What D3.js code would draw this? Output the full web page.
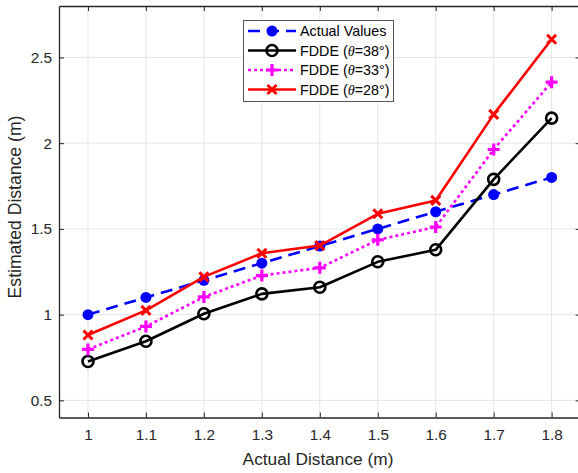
<!DOCTYPE html>
<html>
<head>
<meta charset="utf-8">
<script src="https://cdn.jsdelivr.net/npm/d3@7"></script>
<style>
  html, body { margin: 0; padding: 0; background: #fff; }
  svg { display: block; font-family: "Liberation Sans", Arial, Helvetica, sans-serif; }
</style>
</head>
<body>
<svg id="chart" width="578" height="473"></svg>
<script>
// Distances along the x axis (m)
const actualDistance = [1.0, 1.1, 1.2, 1.3, 1.4, 1.5, 1.6, 1.7, 1.8];
// Estimated distances for each series (m)
const actualValues = [1.0, 1.1, 1.2, 1.3, 1.4, 1.5, 1.6, 1.7, 1.8];
const fdde38 = [0.727, 0.845, 1.005, 1.121, 1.160, 1.308, 1.378, 1.789, 2.146];
const fdde33 = [0.797, 0.931, 1.103, 1.228, 1.273, 1.436, 1.511, 1.963, 2.356];
const fdde28 = [0.881, 1.025, 1.220, 1.358, 1.403, 1.588, 1.666, 2.168, 2.606];
const xTicks = [1, 1.1, 1.2, 1.3, 1.4, 1.5, 1.6, 1.7, 1.8];
const yTicks = [0.5, 1, 1.5, 2, 2.5];
const seriesNames = ["Actual Values", "FDDE (θ=38°)", "FDDE (θ=33°)", "FDDE (θ=28°)"];
const seriesAngles = [null, "38", "33", "28"];

const svg = d3.select("#chart");
const plotLeft = 59, plotRight = 580.6, plotTop = 6, plotBottom = 417.5;
const ink = "#262626";

const x = d3.scaleLinear().domain([0.95, 1.85]).range([plotLeft, plotRight]);
const y = d3.scaleLinear().domain([0.4, 2.8]).range([plotBottom, plotTop]);

// Grid lines
const grid = svg.append("g");
grid.selectAll("line.gx").data(xTicks).join("line")
  .attr("x1", d => x(d)).attr("x2", d => x(d))
  .attr("y1", plotTop).attr("y2", plotBottom)
  .attr("stroke", "#e5e5e5").attr("stroke-width", 1);
grid.selectAll("line.gy").data(yTicks).join("line")
  .attr("x1", plotLeft).attr("x2", plotRight)
  .attr("y1", d => y(d)).attr("y2", d => y(d))
  .attr("stroke", "#e5e5e5").attr("stroke-width", 1);

// Axes (ticks point inward, mirrored on the opposite sides)
const fmt = d => String(d);
const axisStyle = g => {
  g.select(".domain").attr("stroke", ink).attr("stroke-width", 1.3);
  g.selectAll(".tick line").attr("stroke", ink).attr("stroke-width", 1);
  g.selectAll(".tick text").attr("fill", ink).attr("font-size", 15.3)
    .attr("font-family", "Liberation Sans, Arial, sans-serif");
};
svg.append("g").attr("transform", `translate(0,${plotBottom})`)
  .call(d3.axisBottom(x).tickValues(xTicks).tickFormat(fmt).tickSizeInner(-5).tickSizeOuter(0).tickPadding(12))
  .call(axisStyle);
svg.append("g").attr("transform", `translate(0,${plotTop})`)
  .call(d3.axisTop(x).tickValues(xTicks).tickFormat("").tickSizeInner(-5).tickSizeOuter(0))
  .call(axisStyle);
svg.append("g").attr("transform", `translate(${plotLeft},0)`)
  .call(d3.axisLeft(y).tickValues(yTicks).tickFormat(fmt).tickSizeInner(-5).tickSizeOuter(0).tickPadding(7))
  .call(axisStyle);
svg.append("g").attr("transform", `translate(${plotRight},0)`)
  .call(d3.axisRight(y).tickValues(yTicks).tickFormat("").tickSizeInner(-5).tickSizeOuter(0))
  .call(axisStyle);

// Axis titles
svg.append("text").attr("x", 318).attr("y", 465)
  .attr("text-anchor", "middle").attr("fill", ink).attr("font-size", 17.3)
  .text("Actual Distance (m)");
svg.append("text").attr("transform", "translate(20.7,207) rotate(-90)")
  .attr("text-anchor", "middle").attr("fill", ink).attr("font-size", 17.6)
  .text("Estimated Distance (m)");

// Series definitions
const series = [
  { values: actualValues, color: "#0000ff", dash: "12,7", marker: "dot" },
  { values: fdde38, color: "#000000", dash: null, marker: "circle" },
  { values: fdde33, color: "#ff00ff", dash: "3,3", marker: "plus" },
  { values: fdde28, color: "#ff0000", dash: null, marker: "cross" }
];

function drawMarker(g, type, color) {
  if (type === "dot") {
    g.append("circle").attr("r", 5.5).attr("fill", color);
  } else if (type === "circle") {
    g.append("circle").attr("r", 5.5).attr("fill", "none")
      .attr("stroke", color).attr("stroke-width", 2.6);
  } else if (type === "plus") {
    g.append("path").attr("d", "M-6,0H6M0,-6V6")
      .attr("stroke", color).attr("stroke-width", 3.2).attr("fill", "none");
  } else if (type === "cross") {
    g.append("path").attr("d", "M-4.5,-4.5L4.5,4.5M-4.5,4.5L4.5,-4.5")
      .attr("stroke", color).attr("stroke-width", 3).attr("fill", "none");
  }
}

const line = d3.line().x((d, i) => x(actualDistance[i])).y(d => y(d));
const plot = svg.append("g");
series.forEach(s => {
  plot.append("path").datum(s.values)
    .attr("d", line).attr("fill", "none")
    .attr("stroke", s.color).attr("stroke-width", 2.6)
    .attr("stroke-dasharray", s.dash)
    .attr("stroke-linejoin", "round");
  s.values.forEach((v, i) => {
    const g = plot.append("g").attr("transform", `translate(${x(actualDistance[i])},${y(v)})`);
    drawMarker(g, s.marker, s.color);
  });
});

// Legend
const legend = svg.append("g");
legend.append("rect").attr("x", 243.5).attr("y", 20.5).attr("width", 150).attr("height", 81)
  .attr("fill", "#fff").attr("stroke", "#555").attr("stroke-width", 1);
series.forEach((s, k) => {
  const ly = 31 + k * 19.5;
  legend.append("line").attr("x1", 248).attr("x2", 296).attr("y1", ly).attr("y2", ly)
    .attr("stroke", s.color).attr("stroke-width", 2.6).attr("stroke-dasharray", s.dash);
  drawMarker(legend.append("g").attr("transform", `translate(272,${ly})`), s.marker, s.color);
  const t = legend.append("text").attr("x", 300).attr("y", ly + 5)
    .attr("fill", "#000").attr("font-size", 14.3);
  if (seriesAngles[k] === null) {
    t.text(seriesNames[k]);
  } else {
    t.append("tspan").text("FDDE (");
    t.append("tspan").attr("font-family", "Liberation Serif, serif").attr("font-style", "italic").text("θ");
    t.append("tspan").text("=" + seriesAngles[k] + "°)");
  }
});
</script>
</body>
</html>
